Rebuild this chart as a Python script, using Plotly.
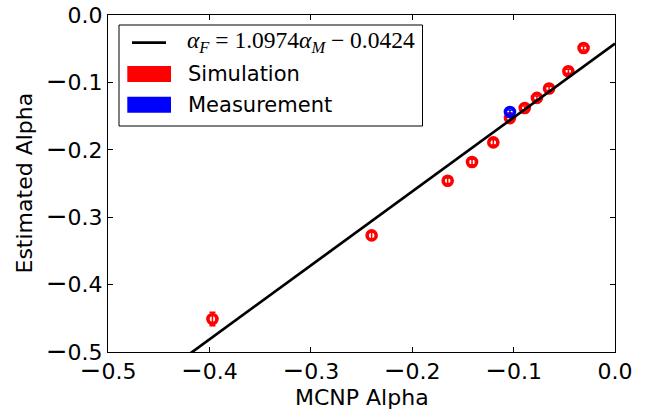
import plotly.graph_objects as go

# ---- data ----
sim_x = [-0.397, -0.240, -0.165, -0.141, -0.120, -0.1036, -0.089, -0.077, -0.065, -0.046, -0.031]
sim_y = [-0.451, -0.327, -0.246, -0.218, -0.189, -0.153, -0.138, -0.123, -0.109, -0.0835, -0.049]
sim_err = [0.010, 0.005, 0.004, 0.004, 0.004, 0.003, 0.003, 0.003, 0.003, 0.003, 0.003]

meas_x = [-0.1036]
meas_y = [-0.144]
meas_err = [0.003]

fit_slope = 1.0974
fit_intercept = -0.0424
fit_x = [-0.5, 0.0]
fit_y = [fit_slope * v + fit_intercept for v in fit_x]

ticks = [-0.5, -0.4, -0.3, -0.2, -0.1, 0.0]
tick_labels = ["\u22120.5", "\u22120.4", "\u22120.3", "\u22120.2", "\u22120.1", "0.0"]

x_title = "MCNP Alpha"
y_title = "Estimated Alpha"
legend_eq = "<i>\u03b1</i><sub><i>F</i></sub> = 1.0974<i>\u03b1</i><sub><i>M</i></sub> \u2212 0.0424"
legend_sim = "Simulation"
legend_meas = "Measurement"

# ---- layout geometry (pixels) ----
W, H = 651, 411
L, R, T, B = 108, 615, 15, 352


def px(x):
    return (x - L) / (R - L)


def py(y):
    return (B - y) / (B - T)


FONT = "DejaVu Sans"
TICK_SIZE = 22
TITLE_SIZE = 22
LEG_SIZE = 21

# matplotlib's minus glyph renders wider; emulate with a slightly larger minus
tick_text = [
    t.replace("\u2212", "<span style='font-size:26px'>\u2212</span>") for t in tick_labels
]

fig = go.Figure()

fig.add_trace(go.Scatter(
    x=sim_x, y=sim_y, mode="markers",
    marker=dict(symbol="circle-open", size=9, color="#ff0000",
                line=dict(width=3.6, color="#ff0000")),
    error_y=dict(type="data", array=sim_err, visible=True, color="#ff0000",
                 thickness=1.5, width=3),
    showlegend=False, hoverinfo="skip"))

fig.add_trace(go.Scatter(
    x=meas_x, y=meas_y, mode="markers",
    marker=dict(symbol="circle-open", size=9, color="#0000ff",
                line=dict(width=3.6, color="#0000ff")),
    error_y=dict(type="data", array=meas_err, visible=True, color="#0000ff",
                 thickness=1.5, width=3),
    showlegend=False, hoverinfo="skip"))

fig.add_trace(go.Scatter(
    x=fit_x, y=fit_y, mode="lines",
    line=dict(color="black", width=2.7),
    showlegend=False, hoverinfo="skip"))

axis_common = dict(
    range=[-0.5, 0.0], tickvals=ticks, ticktext=tick_text,
    showline=True, linecolor="black", linewidth=1, mirror="ticks",
    ticks="inside", ticklen=5, tickwidth=1, tickcolor="black",
    showgrid=False, zeroline=False,
    tickfont=dict(family=FONT, size=TICK_SIZE, color="black"),
)

fig.update_layout(
    width=W, height=H,
    margin=dict(l=L, r=W - R, t=T, b=H - B, autoexpand=False),
    paper_bgcolor="white", plot_bgcolor="white",
    xaxis=dict(**axis_common),
    yaxis=dict(**axis_common),
    showlegend=False,
)

# ---- axis titles ----
fig.add_annotation(text=x_title, xref="paper", yref="paper", x=px((L + R) / 2), y=py(397),
                   xanchor="center", yanchor="middle", showarrow=False,
                   font=dict(family=FONT, size=TITLE_SIZE, color="black"))
fig.add_annotation(text=y_title, xref="paper", yref="paper", x=px(24), y=py((T + B) / 2),
                   xanchor="center", yanchor="middle", showarrow=False, textangle=-90,
                   font=dict(family=FONT, size=TITLE_SIZE, color="black"))

# ---- manual legend (matplotlib-style) ----
shapes = []
shapes.append(dict(type="rect", xref="paper", yref="paper",
                   x0=px(119), x1=px(422.5), y0=py(126), y1=py(25),
                   line=dict(color="black", width=1), fillcolor="white", layer="above"))
shapes.append(dict(type="line", xref="paper", yref="paper",
                   x0=px(132), x1=px(166), y0=py(42.7), y1=py(42.7),
                   line=dict(color="black", width=2.7), layer="above"))
shapes.append(dict(type="rect", xref="paper", yref="paper",
                   x0=px(127.3), x1=px(171), y0=py(82), y1=py(66),
                   line=dict(width=0), fillcolor="#ff0000", layer="above"))
shapes.append(dict(type="rect", xref="paper", yref="paper",
                   x0=px(127.3), x1=px(171), y0=py(112.7), y1=py(96.7),
                   line=dict(width=0), fillcolor="#0000ff", layer="above"))
fig.update_layout(shapes=shapes)

annos = [
    dict(text=legend_eq, x=px(185), y=py(42), font=dict(family="Liberation Serif", size=23.5, color="black")),
    dict(text=legend_sim, x=px(186), y=py(74), font=dict(family=FONT, size=LEG_SIZE, color="black")),
    dict(text=legend_meas, x=px(186), y=py(105), font=dict(family=FONT, size=LEG_SIZE, color="black")),
]
for a in annos:
    fig.add_annotation(xref="paper", yref="paper", xanchor="left", yanchor="middle",
                       showarrow=False, **a)

fig.write_html("out.html")
